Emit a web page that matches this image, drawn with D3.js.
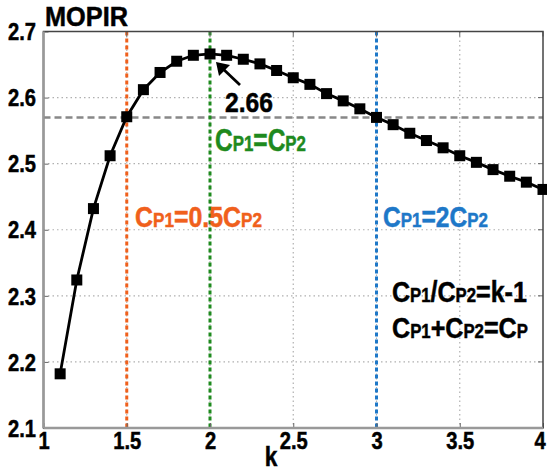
<!DOCTYPE html>
<html><head><meta charset="utf-8">
<script src="https://cdn.jsdelivr.net/npm/d3@7"></script>
<style>
body{margin:0;background:#fff;}
text{font-family:"Liberation Sans",Arial,sans-serif;font-weight:bold;}
</style></head>
<body>
<svg id="c" width="547" height="473"></svg>
<script>
const kValues = [1.1,1.2,1.3,1.4,1.5,1.6,1.7,1.8,1.9,2.0,2.1,2.2,2.3,2.4,2.5,2.6,2.7,2.8,2.9,3.0,3.1,3.2,3.3,3.4,3.5,3.6,3.7,3.8,3.9,4.0];
const mopir = [2.182,2.324,2.432,2.512,2.571,2.612,2.638,2.655,2.664,2.666,2.664,2.658,2.651,2.641,2.630,2.620,2.606,2.595,2.583,2.570,2.559,2.546,2.535,2.524,2.512,2.502,2.491,2.481,2.472,2.461];
const xTicks = [1,1.5,2,2.5,3,3.5,4];
const xTickLabels = ["1","1.5","2","2.5","3","3.5","4"];
const yTicks = [2.1,2.2,2.3,2.4,2.5,2.6,2.7];
const yTickLabels = ["2.1","2.2","2.3","2.4","2.5","2.6","2.7"];
const refLevel = 2.57;
const vLines = [{k:1.5,color:"#f0601c"},{k:2,color:"#1e8a1e"},{k:3,color:"#1e78c8"}];

const svg = d3.select("#c");
const L=43.5,R=543,T=31.5,B=428;
const x = d3.scaleLinear().domain([1,4]).range([L,R]);
const y = d3.scaleLinear().domain([2.1,2.7]).range([B,T]);
const SX = 0.84;

// grid
svg.selectAll(".gx").data(xTicks.slice(1,-1)).join("line")
 .attr("x1",d=>x(d)).attr("x2",d=>x(d)).attr("y1",T).attr("y2",B)
 .attr("stroke","#b0b0b0").attr("stroke-width",1.2).attr("stroke-dasharray","1.5,3");
svg.selectAll(".gy").data(yTicks.slice(1,-1)).join("line")
 .attr("x1",L).attr("x2",R).attr("y1",d=>y(d)).attr("y2",d=>y(d))
 .attr("stroke","#b0b0b0").attr("stroke-width",1.2).attr("stroke-dasharray","1.5,3");

// reference horizontal dashed
svg.append("line").attr("x1",L).attr("x2",R).attr("y1",y(refLevel)).attr("y2",y(refLevel))
 .attr("stroke","#888").attr("stroke-width",2.5).attr("stroke-dasharray","7,4");

// vertical lines
svg.selectAll(".vl").data(vLines).join("line")
 .attr("x1",d=>x(d.k)).attr("x2",d=>x(d.k)).attr("y1",T).attr("y2",B)
 .attr("stroke",d=>d.color).attr("stroke-width",3).attr("stroke-dasharray","4,3");

// axes
const xAxis = d3.axisBottom(x).tickValues(xTicks).tickFormat((d,i)=>xTickLabels[i]).tickSize(-5).tickPadding(4);
const yAxis = d3.axisLeft(y).tickValues(yTicks).tickFormat((d,i)=>yTickLabels[i]).tickSize(-5).tickPadding(9);
const ax = svg.append("g").attr("transform",`translate(0,${B})`).call(xAxis);
const ay = svg.append("g").attr("transform",`translate(${L},0)`).call(yAxis);
[ax,ay].forEach(a=>{
  a.select(".domain").remove();
  a.selectAll(".tick line").attr("stroke","#666");
  a.selectAll("text").attr("fill","#000").attr("stroke","#000").attr("stroke-width",0.5)
   .style("font-size","24px")
   .style("font-family","'Liberation Sans',Arial,sans-serif").style("font-weight","bold")
   .attr("transform",`scale(${SX},1)`);
});
ay.selectAll("text").attr("dy","0.34em");
ax.selectAll("text").filter((d,i)=>i===xTicks.length-1).attr("dx","-4");
// right ticks & top ticks
svg.selectAll(".rt").data(yTicks).join("line").attr("x1",R).attr("x2",R-5).attr("y1",d=>y(d)).attr("y2",d=>y(d)).attr("stroke","#666");
svg.selectAll(".tt").data(xTicks).join("line").attr("x1",d=>x(d)).attr("x2",d=>x(d)).attr("y1",T).attr("y2",T+5).attr("stroke","#666");
// frame
svg.append("rect").attr("x",L).attr("y",T).attr("width",R-L).attr("height",B-T)
 .attr("fill","none").attr("stroke","#444").attr("stroke-width",1.5);
svg.append("line").attr("x1",L).attr("x2",L).attr("y1",T).attr("y2",B).attr("stroke","#999").attr("stroke-width",2.5);
svg.append("line").attr("x1",L).attr("x2",R).attr("y1",B).attr("y2",B).attr("stroke","#999").attr("stroke-width",2.5);

// data
const pts = kValues.map((k,i)=>[k,mopir[i]]);
svg.append("path").datum(pts).attr("fill","none").attr("stroke","#000").attr("stroke-width",2.8)
 .attr("d",d3.line().x(d=>x(d[0])).y(d=>y(d[1])));
svg.selectAll(".m").data(pts).join("rect")
 .attr("x",d=>x(d[0])-5.5).attr("y",d=>y(d[1])-5.5).attr("width",11).attr("height",11).attr("fill","#000");

// label helper: parts [text, isSub], fitted to width
function label(xp,yp,parts,color,big,small,width,anchor){
  const g = svg.append("g").attr("transform",`translate(${xp},${yp})`);
  const t = g.append("text").attr("x",0).attr("y",0).attr("fill",color)
    .attr("stroke",color).attr("stroke-width",0.5).attr("text-anchor",anchor||"start");
  parts.forEach(p=>{
    t.append("tspan").text(p[0]).style("font-size",(p[1]?small:big)+"px");
  });
  const w = t.node().getComputedTextLength();
  const s = width ? width/w : SX;
  t.attr("transform",`scale(${s},1)`);
  return t;
}
label(45,26,[["MOPIR",0]],"#000",28,28,83);
label(271,466,[["k",0]],"#000",27,27,null,"middle");

// annotation arrow
const peakK = 2.0, peakV = mopir[kValues.indexOf(2.0)];
const tipX = x(peakK)+6, tipY = y(peakV)+8;
svg.append("line").attr("x1",tipX+24).attr("y1",tipY+23).attr("x2",tipX+5).attr("y2",tipY+5).attr("stroke","#000").attr("stroke-width",2.8);
svg.append("path").attr("d",`M${tipX},${tipY} L${tipX+14},${tipY+3} L${tipX+3},${tipY+14} Z`).attr("fill","#000");
label(225,112,[["2.66",0]],"#000",28,28,48);

label(215,151,[["C",0],["P1",1],["=C",0],["P2",1]],"#1e8a1e",32,22,91);
label(135,227,[["C",0],["P1",1],["=0.5C",0],["P2",1]],"#f0601c",29,20,127);
label(383,227,[["C",0],["P1",1],["=2C",0],["P2",1]],"#1e78c8",29,20,105);
label(392,302,[["C",0],["P1",1],["/C",0],["P2",1],["=k-1",0]],"#000",30,20,135);
label(392,338,[["C",0],["P1",1],["+C",0],["P2",1],["=C",0],["P",1]],"#000",30,20,136);
</script>
</body></html>
